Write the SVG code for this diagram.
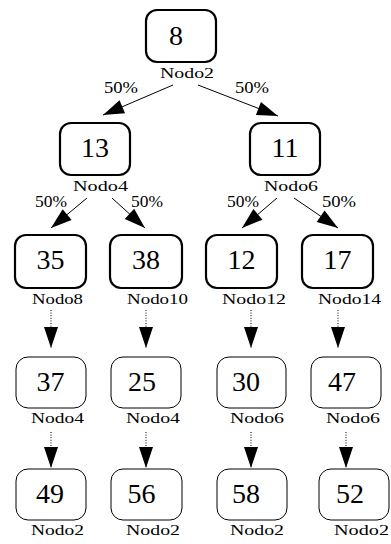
<svg xmlns="http://www.w3.org/2000/svg" width="391" height="544" viewBox="0 0 391 544">
<style>
.bx{fill:#fff;stroke:#000;stroke-width:2.2}
.bt{fill:#fff;stroke:#000;stroke-width:1}
.num{font-family:"Liberation Serif","Times New Roman",serif;font-size:28px;text-anchor:middle;fill:#000}
.lb{font-family:"Liberation Serif","Times New Roman",serif;font-size:15.5px;fill:#000}
.pc{font-family:"Liberation Serif","Times New Roman",serif;font-size:16px;fill:#000}
.e{stroke:#000;stroke-width:1;fill:none;marker-end:url(#ah)}
.d{stroke:#000;stroke-width:1;fill:none;stroke-dasharray:1,1.6;marker-end:url(#ah)}
</style>
<defs>
<marker id="ah" markerUnits="userSpaceOnUse" markerWidth="24" markerHeight="16" viewBox="0 -8 22 16" refX="21" refY="0" orient="auto">
<path d="M0,-7 L21,0 L0,7 z" fill="#000" stroke="none"/>
</marker>
</defs>
<rect width="391" height="544" fill="#fff"/>
<g id="connectors">
<line class="e" x1="173" y1="85" x2="103" y2="115"/>
<line class="e" x1="198" y1="85" x2="278" y2="116"/>
<line class="e" x1="87" y1="198" x2="51" y2="228"/>
<line class="e" x1="112" y1="198" x2="145" y2="228"/>
<line class="e" x1="277" y1="198" x2="242" y2="228"/>
<line class="e" x1="294" y1="198" x2="338" y2="228"/>
<line class="d" x1="51" y1="310" x2="51" y2="348"/>
<line class="d" x1="146" y1="310" x2="146" y2="348"/>
<line class="d" x1="251" y1="310" x2="251" y2="348"/>
<line class="d" x1="338" y1="310" x2="338" y2="348"/>
<line class="d" x1="51" y1="432" x2="51" y2="468"/>
<line class="d" x1="146" y1="432" x2="146" y2="468"/>
<line class="d" x1="251" y1="432" x2="251" y2="468"/>
<line class="d" x1="346" y1="432" x2="346" y2="468"/>
<text class="pc" x="104" y="93" textLength="34" lengthAdjust="spacingAndGlyphs">50%</text>
<text class="pc" x="235" y="93" textLength="34" lengthAdjust="spacingAndGlyphs">50%</text>
<text class="pc" x="35" y="207" textLength="32" lengthAdjust="spacingAndGlyphs">50%</text>
<text class="pc" x="131" y="207" textLength="32" lengthAdjust="spacingAndGlyphs">50%</text>
<text class="pc" x="227" y="207" textLength="32" lengthAdjust="spacingAndGlyphs">50%</text>
<text class="pc" x="322" y="207" textLength="34" lengthAdjust="spacingAndGlyphs">50%</text>
</g>
<g id="n8"><rect class="bx" x="146" y="10" width="70" height="52" rx="11"/><text class="num" x="176" y="45">8</text><text class="lb" x="160" y="78" textLength="54" lengthAdjust="spacingAndGlyphs">Nodo2</text></g>
<g id="n13"><rect class="bx" x="60" y="123" width="70" height="52" rx="11"/><text class="num" x="95" y="157">13</text><text class="lb" x="73" y="191" textLength="55" lengthAdjust="spacingAndGlyphs">Nodo4</text></g>
<g id="n11"><rect class="bx" x="250" y="123" width="70" height="52" rx="11"/><text class="num" x="285" y="157">11</text><text class="lb" x="264" y="191" textLength="54" lengthAdjust="spacingAndGlyphs">Nodo6</text></g>
<g id="n35"><rect class="bx" x="15" y="235" width="71" height="53" rx="11"/><text class="num" x="50.5" y="269">35</text><text class="lb" x="32" y="304" textLength="51" lengthAdjust="spacingAndGlyphs">Nodo8</text></g>
<g id="n38"><rect class="bx" x="110" y="235" width="72" height="53" rx="11"/><text class="num" x="146" y="269">38</text><text class="lb" x="127" y="304" textLength="61" lengthAdjust="spacingAndGlyphs">Nodo10</text></g>
<g id="n12"><rect class="bx" x="206" y="235" width="71" height="53" rx="11"/><text class="num" x="241.5" y="269">12</text><text class="lb" x="222" y="304" textLength="64" lengthAdjust="spacingAndGlyphs">Nodo12</text></g>
<g id="n17"><rect class="bx" x="302" y="235" width="71" height="53" rx="11"/><text class="num" x="337.5" y="269">17</text><text class="lb" x="318" y="304" textLength="63" lengthAdjust="spacingAndGlyphs">Nodo14</text></g>
<g id="n37"><rect class="bt" x="16" y="357" width="70" height="51" rx="12"/><text class="num" x="50.5" y="391">37</text><text class="lb" x="31" y="423" textLength="53" lengthAdjust="spacingAndGlyphs">Nodo4</text></g>
<g id="n25"><rect class="bt" x="111" y="357" width="70" height="51" rx="12"/><text class="num" x="142" y="391">25</text><text class="lb" x="126" y="423" textLength="54" lengthAdjust="spacingAndGlyphs">Nodo4</text></g>
<g id="n30"><rect class="bt" x="217" y="357" width="69" height="51" rx="12"/><text class="num" x="246" y="391">30</text><text class="lb" x="230" y="423" textLength="54" lengthAdjust="spacingAndGlyphs">Nodo6</text></g>
<g id="n47"><rect class="bt" x="311" y="357" width="70" height="51" rx="12"/><text class="num" x="342" y="391">47</text><text class="lb" x="326" y="423" textLength="54" lengthAdjust="spacingAndGlyphs">Nodo6</text></g>
<g id="n49"><rect class="bt" x="16" y="469" width="70" height="51" rx="12"/><text class="num" x="50" y="503">49</text><text class="lb" x="31" y="535" textLength="53" lengthAdjust="spacingAndGlyphs">Nodo2</text></g>
<g id="n56"><rect class="bt" x="111" y="469" width="71" height="51" rx="12"/><text class="num" x="141.5" y="503">56</text><text class="lb" x="126" y="535" textLength="54" lengthAdjust="spacingAndGlyphs">Nodo2</text></g>
<g id="n58"><rect class="bt" x="217" y="469" width="70" height="51" rx="12"/><text class="num" x="246" y="503">58</text><text class="lb" x="230" y="535" textLength="54" lengthAdjust="spacingAndGlyphs">Nodo2</text></g>
<g id="n52"><rect class="bt" x="319" y="469" width="70" height="51" rx="12"/><text class="num" x="350" y="503">52</text><text class="lb" x="334" y="535" textLength="55" lengthAdjust="spacingAndGlyphs">Nodo2</text></g>
</svg>
